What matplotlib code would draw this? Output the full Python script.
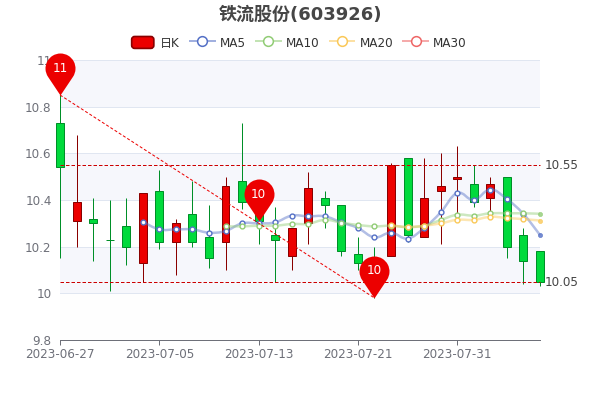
import numpy as np
import matplotlib
matplotlib.use("Agg")
import matplotlib.pyplot as plt
from matplotlib.path import Path
from matplotlib.patches import PathPatch, Patch, FancyBboxPatch
from matplotlib.lines import Line2D
from matplotlib.legend_handler import HandlerPatch

plt.rcParams['font.family'] = ['DejaVu Sans', 'Noto Sans CJK SC']

title = "铁流股份(603926)"
tick_dates = ["2023-06-27", "2023-07-05", "2023-07-13", "2023-07-21", "2023-07-31"]
tick_pos = [0, 6, 12, 18, 24]
y_ticks = [9.8, 10, 10.2, 10.4, 10.6, 10.8, 11]
y_labels = ["9.8", "10", "10.2", "10.4", "10.6", "10.8", "11"]

opens = [10.73, 10.31, 10.32, 10.23, 10.29, 10.13, 10.44, 10.22, 10.34, 10.24,
         10.22, 10.48, 10.41, 10.25, 10.16, 10.30, 10.41, 10.38, 10.17, 10.15,
         10.16, 10.58, 10.24, 10.44, 10.49, 10.47, 10.41, 10.50, 10.25, 10.18]
closes = [10.54, 10.39, 10.30, 10.23, 10.20, 10.43, 10.22, 10.30, 10.22, 10.15,
          10.46, 10.39, 10.31, 10.23, 10.28, 10.45, 10.38, 10.18, 10.13, 10.10,
          10.55, 10.25, 10.41, 10.46, 10.50, 10.39, 10.47, 10.20, 10.14, 10.05]
lows = [10.15, 10.20, 10.14, 10.01, 10.12, 10.05, 10.19, 10.08, 10.20, 10.11,
        10.10, 10.36, 10.21, 10.05, 10.10, 10.21, 10.28, 10.16, 10.10, 9.98,
        10.16, 10.22, 10.24, 10.21, 10.34, 10.37, 10.35, 10.15, 10.04, 10.03]
highs = [10.85, 10.68, 10.41, 10.40, 10.41, 10.43, 10.53, 10.32, 10.48, 10.38,
         10.50, 10.73, 10.46, 10.37, 10.28, 10.52, 10.44, 10.38, 10.24, 10.20,
         10.56, 10.58, 10.58, 10.60, 10.63, 10.55, 10.50, 10.50, 10.28, 10.18]

ma5_start = 5
ma5 = [10.307, 10.274, 10.274, 10.274, 10.26, 10.267, 10.30, 10.30, 10.304, 10.333,
       10.33, 10.33, 10.304, 10.28, 10.24, 10.26, 10.235, 10.28, 10.347, 10.43,
       10.40, 10.445, 10.404, 10.34, 10.25]
ma10_start = 10
ma10 = [10.287, 10.287, 10.29, 10.29, 10.297, 10.298, 10.315, 10.303, 10.293, 10.287,
        10.29, 10.284, 10.29, 10.314, 10.337, 10.333, 10.343, 10.343, 10.343, 10.341]
ma20_start = 20
ma20 = [10.291, 10.284, 10.29, 10.30, 10.315, 10.315, 10.328, 10.323, 10.318, 10.312]

hline_values = [10.55, 10.05]
pin_x = [0, 12, 19]
pin_y = [10.85, 10.31, 9.98]
pin_text = ["11", "10", "10"]

UP, UP_E = "#ec0000", "#8a0000"
DN, DN_E = "#00da3c", "#008f28"
C5, C10, C20, C30 = "#5470c6", "#91cc75", "#fac858", "#ee6666"
GRID, AXC = "#e0e6f1", "#6e7079"
PX = 0.72

fig = plt.figure(figsize=(6, 4), dpi=100)
ax = fig.add_axes([60/600, 60/400, 480/600, 280/400])
ax.set_xlim(0, 29)
ax.set_ylim(9.8, 11)

# bands and grid
for lo, hi, c in zip(y_ticks[:-1], y_ticks[1:],
                     ["#fefefe", "#f6f7fc", "#ffffff", "#f6f7fc", "#ffffff", "#f6f7fc"]):
    ax.axhspan(lo, hi, facecolor=c, edgecolor="none", zorder=0)
for v in y_ticks[1:]:
    ax.axhline(v, color=GRID, lw=1*PX, zorder=1)

for s in ["top", "left", "right"]:
    ax.spines[s].set_visible(False)
ax.spines["bottom"].set_color(AXC)
ax.spines["bottom"].set_linewidth(1*PX)
ax.set_xticks(tick_pos, tick_dates)
ax.set_yticks(y_ticks, y_labels)
ax.tick_params(axis="x", color=AXC, labelcolor=AXC, labelsize=8.64, length=3.6, width=PX, pad=2.5)
ax.tick_params(axis="y", labelcolor=AXC, labelsize=8.64, length=0, pad=6)

# candles
xs = np.arange(len(opens))
o, c, lo, hi = map(np.array, (opens, closes, lows, highs))
up = c > o
face = [UP if u else DN for u in up]
edge = [UP_E if u else DN_E for u in up]
ax.vlines(xs, lo, hi, colors=edge, lw=1*PX, zorder=3, clip_on=False)
ax.bar(xs, np.abs(c - o), bottom=np.minimum(o, c), width=0.48, color=face,
       edgecolor=edge, linewidth=1*PX, zorder=4, clip_on=False)


def smooth(xv, yv, k=0.2):
    """Bezier path through the data points."""
    xv, yv = np.asarray(xv, float), np.asarray(yv, float)
    verts, codes = [(xv[0], yv[0])], [Path.MOVETO]
    n = len(xv)
    for i in range(n - 1):
        a, b = max(i - 1, 0), min(i + 2, n - 1)
        verts += [(xv[i] + k*(xv[i+1]-xv[a]), yv[i] + k*(yv[i+1]-yv[a])),
                  (xv[i+1] - k*(xv[b]-xv[i]), yv[i+1] - k*(yv[b]-yv[i])),
                  (xv[i+1], yv[i+1])]
        codes += [Path.CURVE4]*3
    return Path(verts, codes)


for start, vals, col in [(ma5_start, ma5, C5), (ma10_start, ma10, C10), (ma20_start, ma20, C20)]:
    px = np.arange(start, start + len(vals))
    ax.add_patch(PathPatch(smooth(px, vals), fc="none", ec=col, lw=2.5*PX, alpha=0.45,
                           zorder=5, clip_on=False))
    ax.plot(px[:-1], vals[:-1], ls="none", marker="o", ms=3.5, mfc="white", mec=col, mew=1.0,
            zorder=6, clip_on=False)
    ax.plot(px[-1:], vals[-1:], ls="none", marker="o", ms=3.0, mfc=col, mec=col, mew=0.5,
            alpha=0.8, zorder=6, clip_on=False)

# reference lines
for v in hline_values:
    ax.plot([0, 29], [v, v], color="#cc0000", lw=1*PX, dashes=(3.5, 2), zorder=7, clip_on=False)
    ax.annotate(f"{v:.2f}", xy=(29, v), xytext=(5*PX, -0.5), textcoords="offset points",
                va="center", ha="left", fontsize=8.64, color="#444444", annotation_clip=False)
ax.plot([pin_x[0], pin_x[2]], [pin_y[0], pin_y[2]], color="#ec0000", lw=1*PX,
        dashes=(3, 2), zorder=7, clip_on=False)

# pin marker: tip at the origin, head above
R, CY = 15.0, 27.0
ang = np.degrees(np.arcsin(R/CY))
arc = Path.arc(-ang, 180 + ang)
arc_v = arc.vertices*R + [0, CY]
pin_path = Path(np.vstack([[0, 0], arc_v, [0, 0]]),
                [Path.MOVETO, Path.LINETO] + list(arc.codes[1:]) + [Path.LINETO])
pin_ms = 2*np.abs(pin_path.vertices).max()*PX
for x, y, t in zip(pin_x, pin_y, pin_text):
    ax.plot([x], [y], ls="none", marker=pin_path, ms=pin_ms, mfc="#ec0000", mec="none",
            zorder=8, clip_on=False)
    ax.annotate(t, xy=(x, y), xytext=(0, CY*PX), textcoords="offset points", ha="center",
                va="center", color="white", fontsize=8.64, zorder=9, annotation_clip=False)

# title and legend
fig.text(0.5, 1 - 14.5/400, title, ha="center", va="center", fontsize=13, fontweight="bold",
         color="#464646")


def leg_line(col):
    rgb = matplotlib.colors.to_rgb(col)
    return Line2D([], [], color=(*rgb, 0.55), lw=2*PX, marker="o", ms=7, mfc="white",
                  mec=col, mew=1.1)


def rounded(legend, orig_handle, xdescent, ydescent, width, height, fontsize):
    return FancyBboxPatch((-xdescent + 1, -ydescent), width - 2, height,
                          boxstyle="round,pad=0,rounding_size=2.2")


handles = [Patch(fc=UP, ec=UP_E, lw=1.2),
           leg_line(C5), leg_line(C10), leg_line(C20), leg_line(C30)]
fig.legend(handles, ["日K", "MA5", "MA10", "MA20", "MA30"], loc="center",
           bbox_to_anchor=(0.5 - 1.5/600, 1 - 43/400), ncol=5, frameon=False, fontsize=8.64,
           handlelength=2.08, handleheight=1.15, handletextpad=0.42, columnspacing=0.83,
           labelcolor="#333333", borderpad=0,
           handler_map={Patch: HandlerPatch(patch_func=rounded)})

fig.savefig("out.png", dpi=100)
